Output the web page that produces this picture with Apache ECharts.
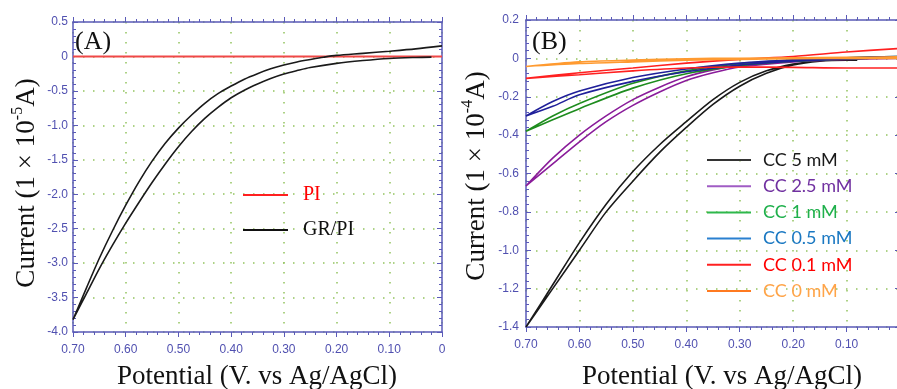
<!DOCTYPE html>
<html><head><meta charset="utf-8">
<script src="https://cdn.jsdelivr.net/npm/echarts@6/dist/echarts.min.js"></script>
<style>html,body{margin:0;padding:0;background:#fff}#c{width:897px;height:389px}</style>
</head><body><div id="c"></div>
<script>
// ---------- Panel A data (current in 1e-5 A) ----------
const piPotential = [0.70, 0.35, 0.0];
const piCurrent   = [0, 0, 0];
// forward sweep (lower branch) 0.02 -> 0.70, then reverse sweep (upper branch) 0.70 -> 0
const grPotential = [0.02, 0.05, 0.10, 0.15, 0.20, 0.25, 0.275, 0.30, 0.325, 0.35, 0.375, 0.40, 0.425, 0.45, 0.475, 0.50, 0.525, 0.55, 0.575, 0.60, 0.625, 0.65, 0.675, 0.70,
                     0.675, 0.65, 0.625, 0.60, 0.575, 0.55, 0.525, 0.50, 0.475, 0.45, 0.425, 0.40, 0.375, 0.35, 0.325, 0.30, 0.275, 0.25, 0.225, 0.20, 0.15, 0.10, 0.05, 0.0];
const grCurrent   = [-0.01, -0.015, -0.03, -0.06, -0.10, -0.16, -0.205, -0.255, -0.32, -0.40, -0.49, -0.60, -0.74, -0.90, -1.09, -1.31, -1.56, -1.83, -2.12, -2.42, -2.74, -3.08, -3.45, -3.82,
                     -3.37, -2.93, -2.53, -2.16, -1.82, -1.52, -1.26, -1.04, -0.85, -0.68, -0.54, -0.43, -0.33, -0.25, -0.18, -0.125, -0.08, -0.045, -0.012, 0.015, 0.045, 0.076, 0.11, 0.153];

// ---------- Panel B data (current in 1e-4 A) ----------
const cc5Potential = [0.08, 0.10, 0.15, 0.20, 0.25, 0.30, 0.35, 0.40, 0.45, 0.50, 0.55, 0.60, 0.65, 0.70,
                      0.65, 0.60, 0.55, 0.50, 0.45, 0.40, 0.35, 0.30, 0.25, 0.20, 0.15, 0.10, 0.08];
const cc5Current   = [-0.01, -0.01, -0.015, -0.035, -0.078, -0.145, -0.24, -0.36, -0.49, -0.64, -0.80, -1.00, -1.20, -1.40,
                      -1.18, -0.96, -0.76, -0.59, -0.45, -0.33, -0.215, -0.125, -0.065, -0.03, -0.012, -0.006, -0.005];
const cc25Potential = [0.0, 0.10, 0.20, 0.30, 0.35, 0.40, 0.45, 0.50, 0.55, 0.60, 0.65, 0.70,
                       0.65, 0.60, 0.55, 0.50, 0.45, 0.40, 0.35, 0.30, 0.20, 0.10, 0.0];
const cc25Current   = [0.0, -0.005, -0.018, -0.045, -0.075, -0.115, -0.175, -0.245, -0.33, -0.435, -0.55, -0.665,
                       -0.52, -0.40, -0.30, -0.215, -0.15, -0.096, -0.06, -0.035, -0.01, 0.0, 0.005];
const cc1Potential = [0.0, 0.10, 0.20, 0.30, 0.40, 0.50, 0.60, 0.65, 0.70,
                      0.65, 0.60, 0.50, 0.40, 0.30, 0.20, 0.10, 0.0];
const cc1Current   = [0.005, -0.003, -0.015, -0.038, -0.08, -0.155, -0.262, -0.32, -0.38,
                      -0.30, -0.235, -0.13, -0.065, -0.028, -0.009, 0.003, 0.01];
const cc05Potential = [0.0, 0.10, 0.20, 0.30, 0.40, 0.50, 0.60, 0.65, 0.70,
                       0.65, 0.60, 0.50, 0.40, 0.30, 0.20, 0.10, 0.0];
const cc05Current   = [0.005, -0.003, -0.015, -0.035, -0.07, -0.12, -0.19, -0.25, -0.30,
                       -0.225, -0.17, -0.10, -0.055, -0.025, -0.008, 0.003, 0.01];
const cc01Potential = [0.0, 0.10, 0.20, 0.30, 0.40, 0.50, 0.60, 0.70,
                       0.60, 0.50, 0.40, 0.30, 0.20, 0.10, 0.0];
const cc01Current   = [-0.05, -0.05, -0.047, -0.045, -0.05, -0.065, -0.085, -0.104,
                       -0.075, -0.05, -0.025, -0.005, 0.01, 0.033, 0.052];
const cc0Potential = [0.0, 0.10, 0.20, 0.30, 0.40, 0.50, 0.60, 0.70,
                      0.60, 0.50, 0.40, 0.30, 0.20, 0.10, 0.0];
const cc0Current   = [0.0, 0.0, -0.002, -0.005, -0.01, -0.018, -0.027, -0.042,
                      -0.018, -0.009, -0.002, 0.001, 0.003, 0.005, 0.008];

// ---------- labels ----------
const legendA = ['PI', 'GR/PI'];
const legendB = ['CC 5 mM', 'CC 2.5 mM', 'CC 1 mM', 'CC 0.5 mM', 'CC 0.1 mM', 'CC 0 mM'];

const AX = '#5a5ab8', LBL = '#5050b0', GRIDC = '#93c35f';
const zip = (p, c) => p.map((v, k) => [v, c[k]]);
const fmtX = v => Math.abs(v) < 1e-9 ? '0' : v.toFixed(2);
const fmtY = v => Math.abs(v) < 1e-9 ? '0' : v.toFixed(1);
const tickFont = {fontFamily: '"Liberation Sans Narrow","Liberation Sans",Arial', fontSize: 12, color: LBL};

function xAx(g, pos) {
  const bottom = pos === 'bottom';
  return {type: 'value', gridIndex: g, position: pos, min: 0, max: 0.7, interval: 0.1, inverse: true,
    axisLine: {show: true, onZero: false, lineStyle: {color: AX, width: 1.5}},
    axisTick: {show: true, inside: false, length: 5, lineStyle: {color: AX, width: 1}},
    minorTick: {show: true, splitNumber: 5, length: 3, lineStyle: {color: AX, width: 1}},
    axisLabel: Object.assign({show: bottom, margin: 12, formatter: fmtX, showMinLabel: true, showMaxLabel: true}, tickFont),
    splitLine: {show: bottom, lineStyle: {color: GRIDC, width: 1.5, type: [1.5, 8.5]}}};
}
function yAx(g, pos, min, max, step, margin) {
  const left = pos === 'left';
  return {type: 'value', gridIndex: g, position: pos, min: min, max: max, interval: step,
    axisLine: {show: true, onZero: false, lineStyle: {color: AX, width: 1.5}},
    axisTick: {show: true, inside: true, length: 5, lineStyle: {color: AX, width: 1}},
    minorTick: {show: true, splitNumber: 5, length: 3, lineStyle: {color: AX, width: 1}},
    axisLabel: Object.assign({show: left, margin: margin, formatter: fmtY, showMinLabel: true, showMaxLabel: true}, tickFont),
    splitLine: {show: left, lineStyle: {color: GRIDC, width: 1.5, type: [1.5, 8.5]}}};
}
function line(name, x, y, data, color, w) {
  return {name: name, type: 'line', xAxisIndex: x, yAxisIndex: y, data: data, symbol: 'none', showSymbol: false,
    smooth: 0.3, lineStyle: {color: color, width: w || 1.6}, itemStyle: {color: color}, animation: false, z: 3};
}
const serif = '"Liberation Serif","Times New Roman",serif';
function title(x, y, rot, text, rich) {
  return {type: 'text', x: x, y: y, rotation: rot, z: 10,
    style: {text: text, rich: rich, font: '27px ' + serif, fontFamily: serif, fontSize: 27, fill: '#111',
      align: 'center', verticalAlign: 'middle', textAlign: 'center', textVerticalAlign: 'middle'}};
}
const supRich = {a: {fontFamily: serif, fontSize: 27, fill: '#111', color: '#111', lineHeight: 30, verticalAlign: 'bottom'},
                 s: {fontFamily: serif, fontSize: 16, fill: '#111', color: '#111', lineHeight: 30, verticalAlign: 'top'}};

const legendBText = ['#1a1a1a', '#7030a0', '#1fb04c', '#1a78c2', '#ff0000', '#ffa448'];
const legendBLine = ['#333333', '#a05cc4', '#2eb84c', '#2a80d0', '#ff2020', '#ff7a20'];
const plotBColors = ['#1a1a1a', '#8a1c9a', '#1e8c1e', '#20209a', '#ff2020', '#ff9a30'];

const option = {
  backgroundColor: '#fff',
  animation: false,
  grid: [
    {left: 73, top: 22, width: 369, height: 310, outerBoundsMode: 'none', containLabel: false},
    {left: 526, top: 20, width: 374, height: 307, outerBoundsMode: 'none', containLabel: false}
  ],
  xAxis: [xAx(0, 'bottom'), xAx(0, 'top'), xAx(1, 'bottom'), xAx(1, 'top')],
  yAxis: [yAx(0, 'left', -4, 0.5, 0.5, 5), yAx(0, 'right', -4, 0.5, 0.5, 5),
          yAx(1, 'left', -1.4, 0.2, 0.2, 7), yAx(1, 'right', -1.4, 0.2, 0.2, 7)],
  legend: [
    {orient: 'vertical', left: 238, top: 180, icon: 'rect', itemWidth: 45, itemHeight: 2, itemGap: 15, selectedMode: false,
     textStyle: {fontFamily: serif, fontSize: 20, lineHeight: 20, padding: [0, 0, 0, 10]},
     data: [{name: legendA[0], textStyle: {color: '#ff0000'}, itemStyle: {color: '#ff2020'}},
            {name: legendA[1], textStyle: {color: '#111'}, itemStyle: {color: '#111'}}]},
    {orient: 'vertical', left: 702, top: 145, icon: 'rect', itemWidth: 44, itemHeight: 2, itemGap: 6.2, selectedMode: false,
     textStyle: {fontFamily: 'Lato, "Open Sans", sans-serif', fontSize: 18, lineHeight: 20, padding: [0, 0, 0, 7]},
     data: legendB.map((n, k) => ({name: n, textStyle: {color: legendBText[k]}, itemStyle: {color: legendBLine[k]}}))}
  ],
  series: [
    line(legendA[0], 0, 0, zip(piPotential, piCurrent), '#f04848', 2),
    line(legendA[1], 0, 0, zip(grPotential, grCurrent), '#1a1a1a', 1.6),
    line(legendB[0], 2, 2, zip(cc5Potential, cc5Current), plotBColors[0]),
    line(legendB[1], 2, 2, zip(cc25Potential, cc25Current), plotBColors[1]),
    line(legendB[2], 2, 2, zip(cc1Potential, cc1Current), plotBColors[2]),
    line(legendB[3], 2, 2, zip(cc05Potential, cc05Current), plotBColors[3]),
    line(legendB[4], 2, 2, zip(cc01Potential, cc01Current), plotBColors[4]),
    line(legendB[5], 2, 2, zip(cc0Potential, cc0Current), plotBColors[5])
  ],
  graphic: [
    title(25, 183, Math.PI / 2, '{a|Current (1 × 10}{s|-5}{a|A)}', supRich),
    title(475, 176, Math.PI / 2, '{a|Current (1 × 10}{s|-4}{a|A)}', supRich),
    title(257, 377, 0, 'Potential (V. vs Ag/AgCl)'),
    title(722, 377, 0, 'Potential (V. vs Ag/AgCl)'),
    {type: 'text', x: 75, y: 42, z: 10, style: {text: '(A)', font: '26px ' + serif, fill: '#111', align: 'left', verticalAlign: 'middle'}},
    {type: 'text', x: 532, y: 42, z: 10, style: {text: '(B)', font: '26px ' + serif, fill: '#111', align: 'left', verticalAlign: 'middle'}}
  ]
};
const chart = echarts.init(document.getElementById('c'), null, {renderer: 'canvas'});
chart.setOption(option);
</script></body></html>
